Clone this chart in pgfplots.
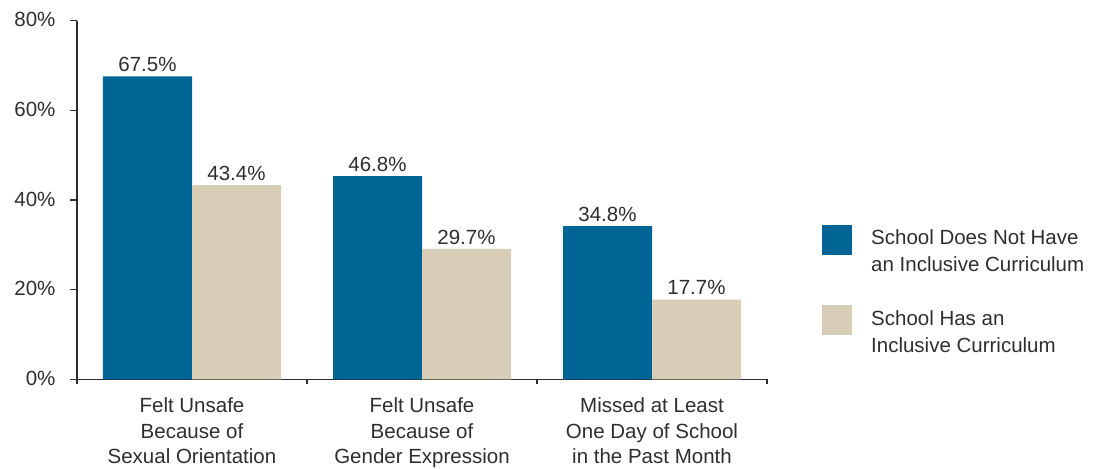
\documentclass[border=0pt]{standalone}
\usepackage{fontspec}
\setmainfont{Liberation Sans}
\usepackage{pgfplots}
\usepackage{pgfplotstable}
\pgfplotsset{compat=1.18}
\definecolor{cblue}{HTML}{006595}
\definecolor{cbeige}{HTML}{D8CDB6}
\definecolor{ctext}{HTML}{2E2E2E}
\pgfplotstableread{
x y lab
0 67.6 67.5
1 45.35 46.8
2 34.2 34.8
}\nothave
\pgfplotstableread{
x y lab
0 43.3 43.4
1 29.1 29.7
2 17.8 17.7
}\has
\begin{document}
\begin{tikzpicture}
\useasboundingbox (-77bp,-89.7bp) rectangle (1019bp,379.3bp);
\begin{axis}[
  scale only axis,
  width=690bp, height=358.6bp,
  xmin=-0.5, xmax=2.5,
  ymin=0, ymax=80,
  axis x line=bottom, axis y line=left,
  axis line style={-, draw=ctext, line width=1.1bp},
  ybar=0pt, bar width=89bp,
  ytick={0,20,40,60,80},
  yticklabel={\pgfmathprintnumber[assume math mode=true]{\tick}\%},
  yticklabel style={font=\fontsize{20.5bp}{24bp}\selectfont, text=ctext, xshift=-11bp, yshift=1bp},
  tick align=outside,
  major tick length=7bp,
  tick style={draw=ctext, line width=1.1bp},
  xtick={0,1,2},
  xticklabels={{Felt Unsafe\\Because of\\Sexual Orientation},{Felt Unsafe\\Because of\\Gender Expression},{Missed at Least\\One Day of School\\in the Past Month}},
  xticklabel style={font=\fontsize{20.5bp}{25.5bp}\selectfont, text=ctext, align=center, yshift=-8bp},
  xtick style={draw=none},
  extra x ticks={-0.5,0.5,1.5,2.5},
  extra x tick labels={},
  extra x tick style={xtick style={draw=ctext, line width=1.1bp}, major tick length=5bp},
  point meta=explicit,
  nodes near coords={\pgfmathprintnumber[fixed,fixed zerofill,precision=1,assume math mode=true]{\pgfplotspointmeta}\%},
  every node near coord/.append style={font=\fontsize{20.5bp}{24bp}\selectfont, text=ctext, yshift=1bp},
  legend cell align=left,
  legend image code/.code={\fill[#1] (0bp,-3bp) rectangle (30bp,27bp);},
  legend style={at={(rel axis cs:1.0797,0.4318)}, anchor=north west, draw=none, fill=none,
    font=\fontsize{20.5bp}{27bp}\selectfont, text=ctext,
    nodes={inner sep=0pt, align=left}, row sep=32bp, column sep=19bp, inner sep=0pt},
  clip=false,
]
\addplot[fill=cblue, draw=none] table[x=x, y=y, meta=lab] {\nothave};
\addlegendentry{School Does Not Have\\an Inclusive Curriculum}
\addplot[fill=cbeige, draw=none] table[x=x, y=y, meta=lab] {\has};
\addlegendentry{School Has an\\Inclusive Curriculum}
\end{axis}
\end{tikzpicture}
\end{document}
